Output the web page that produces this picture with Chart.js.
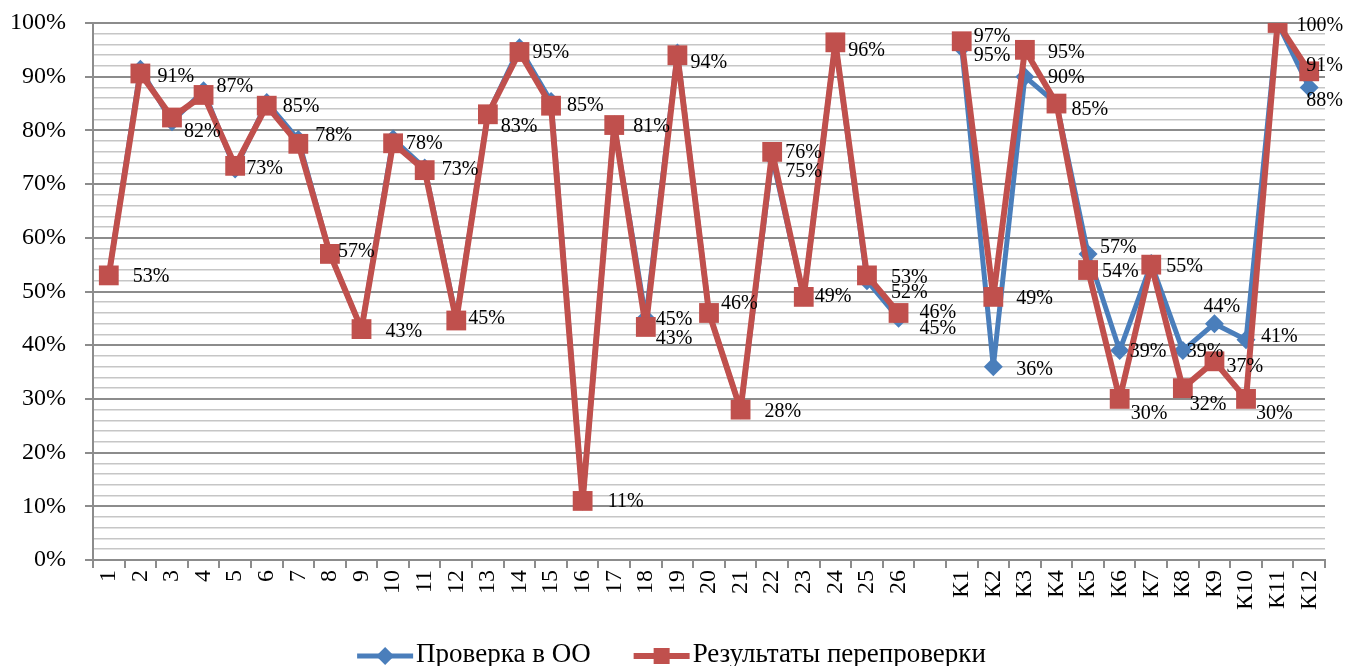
<!DOCTYPE html>
<html>
<head>
<meta charset="utf-8">
<script src="https://cdn.jsdelivr.net/npm/chart.js@4.4.1/dist/chart.umd.min.js"></script>
<style>
  html, body { margin: 0; padding: 0; background: #fff; }
  canvas { display: block; }
</style>
</head>
<body>
<canvas id="chart" width="1347" height="666"></canvas>
<script>
// Сравнение: проверка в ОО и результаты перепроверки (доля, %)

const categories = [
  '1', '2', '3', '4', '5', '6', '7', '8', '9', '10', '11', '12', '13',
  '14', '15', '16', '17', '18', '19', '20', '21', '22', '23', '24', '25', '26',
  '',
  'К1', 'К2', 'К3', 'К4', 'К5', 'К6', 'К7', 'К8', 'К9', 'К10', 'К11', 'К12'
];

// Проверка в ОО
const checkOO = [
  53, 91.4, 81.6, 87.4, 72.8, 85.2, 78.3, 57, 43, 78.4, 73, 45, 83,
  95.4, 85.4, 11, 81, 45, 94.4, 46, 28, 75, 49, 96.4, 52, 45,
  null,
  95.4, 36, 90, 85, 57, 39, 55.2, 39, 44, 41, 100, 88
];

// Результаты перепроверки
const recheck = [
  53, 90.6, 82.4, 86.6, 73.4, 84.6, 77.5, 57, 43, 77.6, 72.6, 44.6, 83,
  94.6, 84.6, 11, 81, 43.4, 94, 46, 28, 76, 49, 96.4, 53, 46,
  null,
  96.6, 49, 95, 85, 54, 30, 55, 32, 37, 30, 100, 91
];

const yTicks = [0, 10, 20, 30, 40, 50, 60, 70, 80, 90, 100];

const BLUE = '#4a7ebb';
const RED = '#c0504d';
const SERIF = '"Liberation Serif", "Times New Roman", serif';

// подписи данных: сдвиг [dx, dy] от точки (как расставлено вручную в Excel)
const labelPlugin = {
  id: 'pctLabels',
  afterDatasetsDraw(chart, args, opts) {
    const ctx = chart.ctx;
    const mb = chart.getDatasetMeta(0);
    const mr = chart.getDatasetMeta(1);
    ctx.save();
    ctx.font = opts.font;
    ctx.fillStyle = '#000';
    ctx.textAlign = 'left';
    ctx.textBaseline = 'middle';
    const put = (el, v, n) => {
      const [dx, dy] = n || opts.def;
      ctx.fillText(Math.round(v) + '%', el.x + dx, el.y + dy);
    };
    for (let i = 0; i < categories.length; i++) {
      const b = checkOO[i], r = recheck[i];
      if (b != null && (r == null || Math.round(b) !== Math.round(r))) {
        put(mb.data[i], b, opts.blue[i]);
      }
      if (r != null) put(mr.data[i], r, opts.red[i]);
    }
    ctx.restore();
  }
};

function drawMarker(ctx, style, x, y, r) {
  ctx.beginPath();
  if (style === 'rectRot') {
    ctx.moveTo(x, y - r); ctx.lineTo(x + r, y); ctx.lineTo(x, y + r); ctx.lineTo(x - r, y);
    ctx.closePath();
  } else {
    ctx.rect(x - r, y - r, 2 * r, 2 * r);
  }
  ctx.fill();
}

const legendPlugin = {
  id: 'excelLegend',
  afterDraw(chart) {
    const ctx = chart.ctx;
    const items = [
      { text: 'Проверка в ОО', color: BLUE, style: 'rectRot', r: 9, lw: 5 },
      { text: 'Результаты перепроверки', color: RED, style: 'rect', r: 8, lw: 6 },
    ];
    const markW = 56, gapT = 3, gapI = 43, y = 655;
    ctx.save();
    ctx.font = '27px ' + SERIF;
    const widths = items.map(it => ctx.measureText(it.text).width);
    const total = widths.reduce((a, w) => a + markW + gapT + w, 0) + gapI * (items.length - 1);
    let x = (chart.width - total) / 2 - 2;
    items.forEach((it, k) => {
      ctx.strokeStyle = it.color;
      ctx.fillStyle = it.color;
      ctx.lineWidth = it.lw;
      ctx.beginPath();
      ctx.moveTo(x, y + 1); ctx.lineTo(x + markW, y + 1);
      ctx.stroke();
      drawMarker(ctx, it.style, x + markW / 2, y + 1, it.r);
      ctx.fillStyle = '#000';
      ctx.textAlign = 'left';
      ctx.textBaseline = 'middle';
      ctx.fillText(it.text, x + markW + gapT, y);
      x += markW + gapT + widths[k] + gapI;
    });
    ctx.restore();
  }
};

new Chart(document.getElementById('chart'), {
  type: 'line',
  data: {
    labels: categories,
    datasets: [
      {
        label: 'Проверка в ОО',
        data: checkOO,
        borderColor: BLUE,
        backgroundColor: BLUE,
        borderWidth: 5,
        borderJoinStyle: 'round',
        borderCapStyle: 'round',
        pointStyle: 'rectRot',
        pointRadius: 9.5,
        pointBorderWidth: 0,
        tension: 0,
        spanGaps: false,
        order: 1,
      },
      {
        label: 'Результаты перепроверки',
        data: recheck,
        borderColor: RED,
        backgroundColor: RED,
        borderWidth: 6,
        borderJoinStyle: 'round',
        borderCapStyle: 'round',
        pointStyle: 'rect',
        pointRadius: 14,
        pointBorderWidth: 0,
        tension: 0,
        spanGaps: false,
        order: 0,
      },
    ],
  },
  options: {
    responsive: false,
    animation: false,
    events: [],
    layout: { padding: { top: 23, right: 22, left: 0, bottom: 0 } },
    plugins: {
      legend: { display: false },
      tooltip: { enabled: false },
      pctLabels: {
        font: '20px ' + SERIF,
        def: [14, 3],
        blue: {
          17: [10, 1], 21: [13, 14], 24: [24, 12], 25: [21, 10], 27: [12, 8], 28: [23, 3],
          29: [23, 1], 31: [12, -6], 32: [10, 1], 34: [4, 1], 35: [-11, -17], 36: [15, -3], 38: [-3, 13],
        },
        red: {
          0: [24, 1], 1: [17, 3], 2: [12, 14], 3: [13, -8], 4: [11, 3], 5: [16, 1], 6: [17, -8],
          7: [8, -2], 8: [24, 3], 9: [13, 0], 10: [17, 0], 11: [12, -2], 12: [13, 12], 13: [13, 1],
          14: [16, 0], 15: [25, 1], 16: [19, 2], 17: [10, 12], 18: [13, 8], 19: [12, -9], 20: [24, 2],
          21: [13, 1], 22: [11, 0], 23: [13, 8], 24: [24, 2], 25: [21, 0], 27: [12, -5], 28: [23, 2],
          29: [23, 3], 30: [15, 6], 31: [14, 2], 32: [11, 15], 33: [15, 2], 34: [7, 17], 35: [12, 5],
          36: [10, 15], 37: [19, 3], 38: [-3, -6],
        },
      },
    },
    scales: {
      x: {
        type: 'category',
        offset: true,
        afterFit: s => { s.height = 106; s.paddingLeft = 0; s.paddingRight = 0; },
        grid: {
          display: true,
          drawOnChartArea: false,
          drawTicks: true,
          tickLength: 8,
          color: '#8c8c8c',
          lineWidth: 2,
          offset: true,
        },
        border: { display: true, color: '#8c8c8c', width: 2 },
        ticks: {
          autoSkip: false,
          minRotation: 90,
          maxRotation: 90,
          padding: 2,
          color: '#000',
          font: { family: SERIF, size: 24 },
        },
      },
      y: {
        min: 0,
        max: 100,
        afterFit: s => { s.width = 93; s.paddingTop = 0; s.paddingBottom = 0; },
        grid: {
          color: c => yTicks.includes(c.tick.value) ? '#8c8c8c' : '#c6c6c6',
          lineWidth: c => yTicks.includes(c.tick.value) ? 2 : 1.6,
          tickColor: c => yTicks.includes(c.tick.value) ? '#8c8c8c' : 'rgba(0,0,0,0)',
          tickLength: 8,
        },
        border: { display: true, color: '#8c8c8c', width: 2 },
        ticks: {
          stepSize: 2,
          autoSkip: false,
          padding: 19,
          color: '#000',
          font: { family: SERIF, size: 24 },
          callback: v => yTicks.includes(v) ? v + '%' : '',
        },
      },
    },
  },
  plugins: [labelPlugin, legendPlugin],
});
</script>
</body>
</html>
